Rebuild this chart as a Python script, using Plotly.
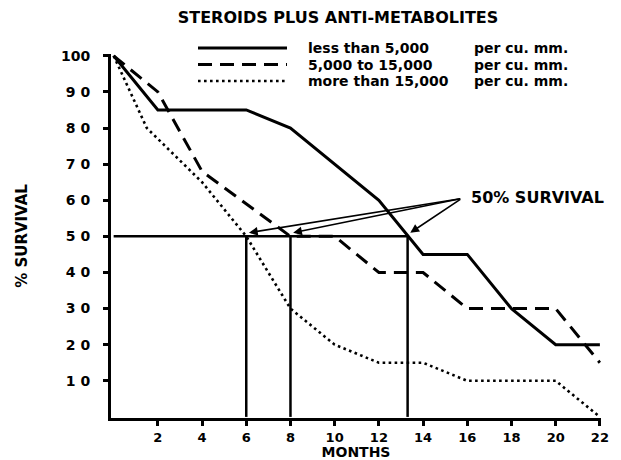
import plotly.graph_objects as go

# ---- data ----
months_low = [0, 2, 6, 8, 12, 14, 16, 18, 20, 22]
surv_low = [100, 85, 85, 80, 60, 45, 45, 30, 20, 20]

months_mid = [0, 2, 4, 8, 10, 12, 14, 16, 20, 22]
surv_mid = [100, 90, 68, 50, 50, 40, 40, 30, 30, 15]

months_high = [0, 1.5, 4, 6, 8, 10, 12, 14, 16, 20, 22]
surv_high = [100, 80, 65, 50, 30, 20, 15, 15, 10, 10, 0]

medians = [6, 8, 13.3]          # months at which each curve reaches 50 %
median_level = 50

x_ticks = [2, 4, 6, 8, 10, 12, 14, 16, 18, 20, 22]
y_ticks = [10, 20, 30, 40, 50, 60, 70, 80, 90, 100]
y_tick_text = ["1 0", "2 0", "3 0", "4 0", "5 0", "6 0", "7 0", "8 0", "9 0", "100"]

names = ["less than 5,000", "5,000 to 15,000", "more than 15,000"]
unit = "per cu. mm."

FONT = "DejaVu Sans"
OFF = 8                      # page body margin in the browser
W, H = 621 - OFF, 460 - OFF
ML, MR, MT, MB = 111 - OFF, 20, 54 - OFF, 42
PW, PH = W - ML - MR, H - MT - MB


def px_x(px):  # window pixel column -> paper x
    return (px - OFF - ML) / PW


def px_y(py):  # window pixel row -> paper y
    return (H - MB - (py - OFF)) / PH


styles = [dict(color="black", width=3),
          dict(color="black", width=3, dash="14px,8px"),
          dict(color="black", width=2.6, dash="2.6px,3.4px")]

fig = go.Figure()
for mx, sy, nm, st in zip([months_low, months_mid, months_high],
                          [surv_low, surv_mid, surv_high], names, styles):
    fig.add_trace(go.Scatter(x=mx, y=sy, mode="lines", name=nm + " " + unit,
                             line=st, cliponaxis=False, showlegend=False))

# median guide lines: horizontal 50% line and verticals down to the axis
gx, gy = [0, max(medians)], [median_level, median_level]
for m in medians:
    gx += [None, m, m]
    gy += [None, median_level, 0]
fig.add_trace(go.Scatter(x=gx, y=gy, mode="lines", showlegend=False,
                         line=dict(color="black", width=2.5), cliponaxis=False,
                         hoverinfo="skip"))

# "50% SURVIVAL" label with arrows to the median points
tail_x, tail_y = 15.75, 60.5
fig.add_annotation(x=16.1, y=60.8, xref="x", yref="y", text="50% SURVIVAL",
                   showarrow=False, xanchor="left", yanchor="middle",
                   font=dict(family=FONT, size=16, color="black", weight="bold"))
for m in medians:
    fig.add_annotation(x=m + 0.12, y=median_level + 1, xref="x", yref="y",
                       ax=tail_x, ay=tail_y, axref="x", ayref="y",
                       text="", showarrow=True, arrowhead=2, arrowsize=1.1,
                       arrowwidth=1.6, arrowcolor="black", standoff=0)

# legend (key lines + two text columns)
legend_rows = [48, 64.5, 81]
for row, nm, st in zip(legend_rows, names, styles):
    fig.add_shape(type="line", xref="paper", yref="paper",
                  x0=px_x(198), x1=px_x(287), y0=px_y(row), y1=px_y(row),
                  line=st)
    fig.add_annotation(xref="paper", yref="paper", x=px_x(306), y=px_y(row),
                       text=nm, showarrow=False, xanchor="left", yanchor="middle",
                       font=dict(family=FONT, size=14, color="black", weight="bold"))
    fig.add_annotation(xref="paper", yref="paper", x=px_x(472), y=px_y(row),
                       text=unit, showarrow=False, xanchor="left", yanchor="middle",
                       font=dict(family=FONT, size=14, color="black", weight="bold"))

fig.update_layout(
    width=W, height=H,
    margin=dict(l=ML, r=MR, t=MT, b=MB),
    paper_bgcolor="white", plot_bgcolor="white",
    font=dict(family=FONT, color="black", size=13),
    title=dict(text="STEROIDS PLUS ANTI-METABOLITES", x=(338 - OFF) / W, xref="container",
               xanchor="center", y=1 - (17 - OFF) / H, yanchor="middle",
               font=dict(family=FONT, size=16, color="black", weight="bold")),
    showlegend=False,
    xaxis=dict(range=[-0.12, 22.05], showgrid=False, zeroline=False, automargin=False,
               showline=True, linecolor="black", linewidth=3,
               tickmode="array", tickvals=x_ticks, ticktext=[str(v) for v in x_ticks],
               ticks="outside", ticklen=5, tickwidth=2.5, tickcolor="black",
               ticklabelstandoff=0,
               tickfont=dict(family=FONT, size=13, color="black", weight="bold"),
               title=dict(text="MONTHS", standoff=4,
                          font=dict(family=FONT, size=14, color="black", weight="bold"))),
    yaxis=dict(range=[-0.3, 100.5], showgrid=False, zeroline=False, automargin=False,
               showline=True, linecolor="black", linewidth=3,
               tickmode="array", tickvals=y_ticks, ticktext=y_tick_text,
               ticks="outside", ticklen=5, tickwidth=2.5, tickcolor="black",
               ticklabelstandoff=10,
               tickfont=dict(family=FONT, size=14, color="black", weight="bold"),
               title=dict(text="% SURVIVAL", standoff=30,
                          font=dict(family=FONT, size=15, color="black", weight="bold"))),
)

fig.write_html("out.html")
